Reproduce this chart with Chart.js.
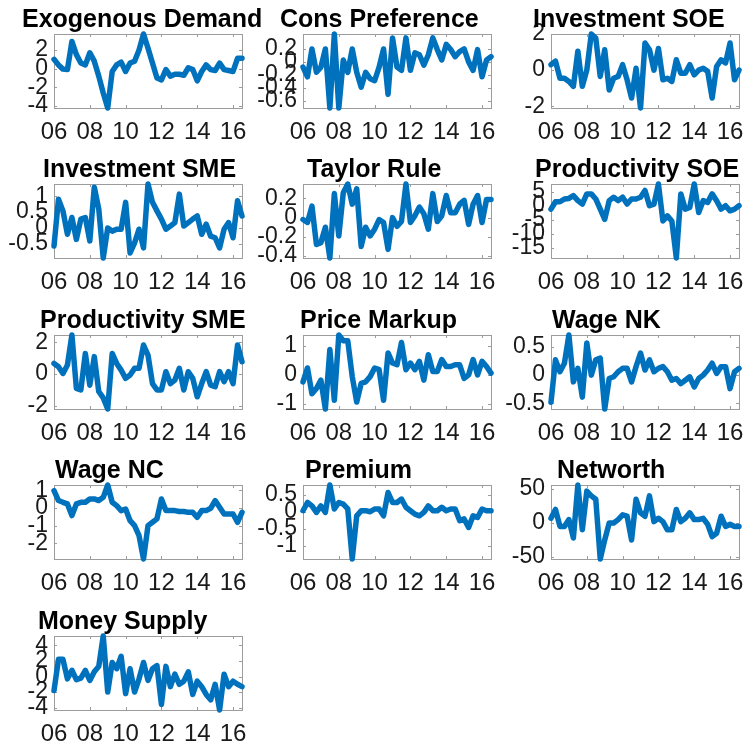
<!DOCTYPE html>
<html>
<head>
<meta charset="utf-8">
<script src="https://cdn.jsdelivr.net/npm/chart.js@4.4.1/dist/chart.umd.min.js"></script>
<style>
  html, body { margin: 0; padding: 0; background: #ffffff; }
  #fig { position: relative; width: 755px; height: 744px; overflow: hidden; }
  #fig canvas { position: absolute; }
</style>
</head>
<body>
<div id="fig"></div>
<script>
// quarterly dates, 2006Q1 .. 2016Q3
const dates = [
  2006, 2006.25, 2006.5, 2006.75, 2007, 2007.25, 2007.5, 2007.75,
  2008, 2008.25, 2008.5, 2008.75, 2009, 2009.25, 2009.5, 2009.75,
  2010, 2010.25, 2010.5, 2010.75, 2011, 2011.25, 2011.5, 2011.75,
  2012, 2012.25, 2012.5, 2012.75, 2013, 2013.25, 2013.5, 2013.75,
  2014, 2014.25, 2014.5, 2014.75, 2015, 2015.25, 2015.5, 2015.75,
  2016, 2016.25, 2016.5
];
const xTickValues = [2006, 2008, 2010, 2012, 2014, 2016];
const xTickLabels = ["06", "08", "10", "12", "14", "16"];

// shock series
const exoDemand = [1.0, 0.4, -0.05, -0.1, 2.9, 1.5, 0.6, 0.4, 1.7, 0.8, -0.8, -2.6, -4.2, -0.3, 0.4, 0.7, -0.3, 0.6, 0.8, 2.0, 3.7, 2.2, 0.6, -1.0, -1.2, -0.1, -0.8, -0.6, -0.6, -0.7, 0.1, -0.1, -1.3, -0.3, 0.4, -0.1, -0.2, 0.6, -0.1, -0.2, -0.3, 1.1, 1.1];
const consPref = [-0.08, -0.23, 0.2, -0.16, -0.08, 0.2, -0.71, 0.43, -0.71, 0.03, -0.16, 0.2, -0.16, -0.39, -0.16, -0.26, -0.29, -0.08, 0.2, -0.5, 0.37, -0.08, -0.13, 0.37, -0.13, 0.14, 0.11, -0.05, 0.11, 0.37, 0.19, 0.03, 0.27, 0.19, 0.08, 0.16, 0.2, 0, -0.13, 0.19, -0.23, 0.03, 0.08];
const invSOE = [0.3, 0.5, -0.45, -0.45, -0.63, -0.9, 1.05, -0.9, 0, 2.0, 1.78, -0.35, 1.13, -1.1, -0.45, -0.35, 0.3, -0.54, -1.55, 0.1, -2.1, 1.5, 1.13, 0, 1.2, -0.54, -0.45, -0.63, 0.57, -0.17, -0.17, 0.3, -0.26, 0, 0.1, -0.07, -1.55, 0.2, 0.57, 0.4, 1.5, -0.54, 0];
const invSME = [-0.57, 0.91, 0.54, -0.2, 0.33, -0.36, 0.28, 0.33, -0.41, 1.29, 0.6, -0.95, 0, -0.1, -0.04, -0.04, 0.81, -0.79, -0.47, -0.04, -0.63, 1.39, 0.81, 0.54, 0.28, -0.04, 0.06, 0.17, 1.07, 0.06, 0.17, 0.28, 0.38, -0.2, 0.12, -0.26, -0.31, -0.63, -0.04, 0.17, -0.31, 0.86, 0.38];
const taylorRule = [-0.02, -0.05, 0.12, -0.28, -0.26, -0.1, -0.42, 0.25, -0.19, 0.26, 0.35, 0.14, 0.3, -0.3, -0.1, -0.19, -0.12, -0.02, -0.05, -0.33, 0, -0.09, -0.04, 0.35, -0.05, 0.02, 0.11, 0.04, -0.12, 0.25, -0.04, 0.02, 0.23, 0.05, 0.05, 0.14, 0.18, -0.07, 0.14, 0.23, -0.05, 0.19, 0.19];
const prodSOE = [-1.2, 1.4, 1.4, 2.4, 2.6, 3.6, 1.8, 0.6, 4.2, 4.2, 2.4, -1.2, -4.8, 1.8, 3.0, 1.8, 3.0, 0.6, 2.4, 2.4, 3.0, 5.4, 0, 0.6, 7.7, -5.4, -3.6, -5.4, -18.5, 4.2, -1.2, -0.6, 7.7, -2.4, 1.8, 1.2, 4.2, 1.8, -1.2, 0, -1.8, -1.2, 0];
const prodSME = [0.67, 0.46, 0.04, 0.57, 2.46, -0.9, -1.0, 1.3, -0.7, 1.1, -1.1, -1.5, -2.2, 1.3, 0.67, 0.25, -0.27, -0.06, 0.36, 0.36, 1.83, 1.2, -0.6, -1.0, -1.0, 0.15, -0.6, -0.38, 0.36, -1.0, 0.15, -0.27, -1.43, -0.6, 0.15, -0.7, -0.8, 0.15, -0.48, 0.15, -0.6, 1.83, 0.78];
const priceMarkup = [-0.24, 0.24, -0.65, -0.47, -0.18, -1.18, 0.88, -0.88, 1.38, 1.18, 1.18, -0.06, -0.94, -0.29, -0.24, -0.06, 0.24, 0.18, -0.88, 0.76, 0.41, 0.35, 1.12, 0.18, 0.41, 0.18, 0.47, -0.18, 0.7, 0.12, 0.12, 0.53, 0.29, 0.29, 0.35, 0.35, -0.12, 0, 0.53, 0, 0.47, 0.29, 0.06];
const wageNK = [-0.48, 0.27, 0.06, 0.21, 0.71, -0.12, 0.12, -0.39, 0.57, 0, 0.27, 0.3, -0.6, -0.06, -0.03, 0.06, 0.12, 0.12, -0.12, 0.15, 0.39, 0.09, 0.27, 0.06, 0.12, 0.15, 0.06, -0.09, -0.06, -0.15, -0.09, -0.03, -0.21, -0.06, 0, 0.09, 0.21, 0.03, 0.15, 0.15, -0.24, 0.06, 0.12];
const wageNC = [0.98, 0.42, 0.32, 0.23, -0.43, 0.23, 0.32, 0.32, 0.51, 0.51, 0.42, 0.6, 1.3, 0.32, 0.13, -0.15, -0.06, -0.72, -1.0, -1.57, -2.89, -1.0, -0.81, -0.62, 0.51, -0.15, -0.15, -0.15, -0.2, -0.2, -0.25, -0.25, -0.53, -0.15, -0.15, -0.02, 0.42, 0.04, -0.34, -0.34, -0.34, -0.81, -0.25];
const premium = [0.03, 0.27, 0.17, -0.02, 0.17, -0.02, 0.78, 0.08, 0.27, 0.22, 0.08, -1.38, -0.12, 0.03, 0.03, 0, 0.08, 0.08, -0.12, 0.56, 0.27, 0.27, 0.37, 0.13, 0.03, -0.07, -0.12, -0.02, 0.17, 0.03, 0.03, 0.13, 0.03, 0.08, 0.08, -0.26, -0.21, -0.46, -0.12, -0.17, 0.08, 0.03, 0.03];
const networth = [7, 20, -5, -5, 5, -22, 56, -10, 47, 40, 35, -53, -25, 0, 0, 5, 12, 10, -25, 35, 15, 10, 40, 2, 7, 2, -10, -10, 20, 2, 7, 15, 5, 5, 7, -2, -20, -15, 10, -5, -2, -5, -5];
const moneySupply = [-1.8, 2.2, 2.2, -0.3, 0.8, -0.4, -0.2, 0.8, -0.5, 0.6, 1.3, 5.2, -2.0, 1.8, 1.0, 2.6, -2.2, 1.0, -2.0, -0.3, 1.8, -0.5, 1.0, 1.4, -3.6, 1.3, -1.3, 0.3, -1.0, -0.6, 0.6, -2.3, -0.6, -1.3, -2.3, -3.0, -1.0, -4.3, 0.3, -1.3, -0.6, -1.0, -1.3];

// y tick values shown on each panel
const exoDemandTicks = [-4, -2, 0, 2];
const consPrefTicks = [-0.6, -0.4, -0.2, 0, 0.2];
const invSOETicks = [-2, 0, 2];
const invSMETicks = [-0.5, 0, 0.5, 1];
const taylorRuleTicks = [-0.4, -0.2, 0, 0.2];
const prodSOETicks = [-15, -10, -5, 0, 5];
const prodSMETicks = [-2, 0, 2];
const priceMarkupTicks = [-1, 0, 1];
const wageNKTicks = [-0.5, 0, 0.5];
const wageNCTicks = [-2, -1, 0, 1];
const premiumTicks = [-1, -0.5, 0, 0.5];
const networthTicks = [-50, 0, 50];
const moneySupplyTicks = [-4, -2, 0, 2, 4];

// subplot layout (3 columns, 5 rows)
const BOX_W = 188, BOX_H = 74;
const PAD_L = 54, PAD_T = 34, PAD_R = 14, PAD_B = 40;
const EXTRA_R = 14; // room for long titles
const colLeft = [54, 303, 551];
const rowTop = [34, 184, 335, 485, 636];

const panels = [
  { title: "Exogenous Demand", values: exoDemand, ticks: exoDemandTicks, titleX: 22 },
  { title: "Cons Preference", values: consPref, ticks: consPrefTicks, titleX: 31 },
  { title: "Investment SOE", values: invSOE, ticks: invSOETicks, titleX: 36 },
  { title: "Investment SME", values: invSME, ticks: invSMETicks, titleX: 43 },
  { title: "Taylor Rule", values: taylorRule, ticks: taylorRuleTicks, titleX: 58 },
  { title: "Productivity SOE", values: prodSOE, ticks: prodSOETicks, titleX: 38 },
  { title: "Productivity SME", values: prodSME, ticks: prodSMETicks, titleX: 40 },
  { title: "Price Markup", values: priceMarkup, ticks: priceMarkupTicks, titleX: 51 },
  { title: "Wage NK", values: wageNK, ticks: wageNKTicks, titleX: 55 },
  { title: "Wage NC", values: wageNC, ticks: wageNCTicks, titleX: 55 },
  { title: "Premium", values: premium, ticks: premiumTicks, titleX: 56 },
  { title: "Networth", values: networth, ticks: networthTicks, titleX: 60 },
  { title: "Money Supply", values: moneySupply, ticks: moneySupplyTicks, titleX: 38 }
];

const FONT = '"Liberation Sans", Arial, Helvetica, sans-serif';
const AXIS_COLOR = "#9c9c9c";
const LABEL_COLOR = "#1a1a1a";
const LINE_COLOR = "#0072BD";

Chart.defaults.font.family = FONT;

// matlab style box with inward ticks, drawn under the line; title on top
const boxPlugin = {
  id: "matlabBox",
  beforeDatasetsDraw(chart) {
    const { ctx, chartArea: a, scales } = chart;
    const tl = 3;
    ctx.save();
    ctx.strokeStyle = AXIS_COLOR;
    ctx.lineWidth = 1;
    ctx.strokeRect(Math.round(a.left) + 0.5, Math.round(a.top) + 0.5,
      Math.round(a.right - a.left), Math.round(a.bottom - a.top));
    ctx.beginPath();
    scales.x.ticks.forEach(t => {
      const px = Math.round(scales.x.getPixelForValue(t.value)) + 0.5;
      ctx.moveTo(px, a.bottom); ctx.lineTo(px, a.bottom - tl);
      ctx.moveTo(px, a.top); ctx.lineTo(px, a.top + tl);
    });
    scales.y.ticks.forEach(t => {
      const py = Math.round(scales.y.getPixelForValue(t.value)) + 0.5;
      ctx.moveTo(a.left, py); ctx.lineTo(a.left + tl, py);
      ctx.moveTo(a.right, py); ctx.lineTo(a.right - tl, py);
    });
    ctx.stroke();
    ctx.restore();
  },
  afterDraw(chart, args, opts) {
    const { ctx } = chart;
    ctx.save();
    ctx.font = "bold 25px " + FONT;
    ctx.fillStyle = "#000000";
    ctx.textBaseline = "alphabetic";
    ctx.fillText(opts.text, opts.x, PAD_T - 7);
    ctx.restore();
  }
};

function makePanel(p, idx) {
  const col = idx % 3, row = Math.floor(idx / 3);
  const canvas = document.createElement("canvas");
  const w = PAD_L + BOX_W + PAD_R + EXTRA_R, h = PAD_T + BOX_H + PAD_B;
  canvas.width = w;
  canvas.height = h;
  canvas.style.left = (colLeft[col] - PAD_L) + "px";
  canvas.style.top = (rowTop[row] - PAD_T) + "px";
  canvas.style.width = w + "px";
  canvas.style.height = h + "px";
  document.getElementById("fig").appendChild(canvas);

  const points = p.values.map((v, i) => ({ x: dates[i], y: v }));

  new Chart(canvas, {
    type: "line",
    data: {
      datasets: [{
        data: points,
        borderColor: LINE_COLOR,
        borderWidth: 5.5,
        borderJoinStyle: "round",
        borderCapStyle: "round",
        pointRadius: 0,
        tension: 0,
        fill: false,
        clip: false
      }]
    },
    options: {
      responsive: false,
      animation: false,
      devicePixelRatio: 1,
      layout: { padding: { left: 0, top: PAD_T, right: PAD_R + EXTRA_R, bottom: 0 } },
      plugins: {
        legend: { display: false },
        tooltip: { enabled: false },
        matlabBox: { text: p.title, x: p.titleX }
      },
      scales: {
        x: {
          type: "linear",
          min: dates[0],
          max: dates[dates.length - 1],
          grid: { display: false, drawTicks: false },
          border: { display: false },
          afterBuildTicks: s => { s.ticks = xTickValues.map(v => ({ value: v })); },
          afterFit: s => { s.height = PAD_B; },
          ticks: {
            autoSkip: false,
            maxRotation: 0,
            padding: 10,
            color: LABEL_COLOR,
            font: { size: 24 },
            callback: v => xTickLabels[xTickValues.indexOf(v)]
          }
        },
        y: {
          type: "linear",
          min: Math.min(...p.values),
          max: Math.max(...p.values),
          grid: { display: false, drawTicks: false },
          border: { display: false },
          afterBuildTicks: s => { s.ticks = p.ticks.map(v => ({ value: v })); },
          afterFit: s => { s.width = PAD_L; },
          ticks: {
            autoSkip: false,
            padding: 6,
            color: LABEL_COLOR,
            font: { size: 23 },
            callback: v => String(v)
          }
        }
      }
    },
    plugins: [boxPlugin]
  });
}

panels.forEach(makePanel);
</script>
</body>
</html>
